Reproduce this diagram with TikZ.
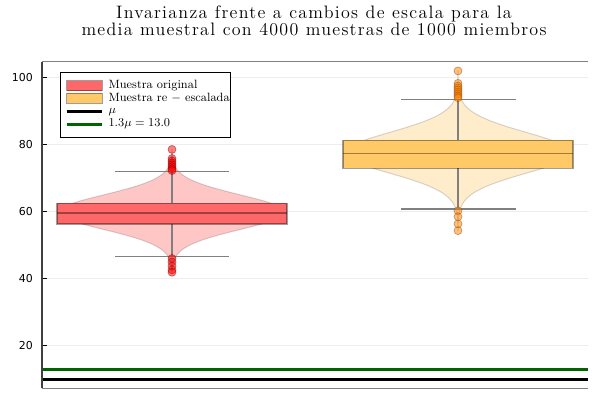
\documentclass[tikz,border=0pt]{standalone}
\usepackage{fontspec}
\usepackage{xcolor}
\usepackage{amsmath,amssymb}
\newfontfamily\ticksfont{DejaVu Sans}
\newfontfamily\titlefont{Latin Modern Roman}[LetterSpace=7]
\definecolor{boxred}{HTML}{FF6868}
\definecolor{violred}{HTML}{FFC6C6}
\definecolor{boxorange}{HTML}{FFC968}
\definecolor{violorange}{HTML}{FFECCB}
\definecolor{darkgreen}{HTML}{006400}
\definecolor{gridgray}{HTML}{EDEDED}

\begin{document}
\begin{tikzpicture}[x=0.75pt,y=0.75pt,
  declare function={vy(\v)=3.355*\v-12.8;}]
        \def\violinpath#1#2#3#4#5{plot[domain=#4:#5,samples=120]
          ({#1+114*exp(-((\x-#2)*(\x-#2))/(2*#3*#3))},{vy(\x)})
          -- plot[domain=#5:#4,samples=120]
          ({#1-114*exp(-((\x-#2)*(\x-#2))/(2*#3*#3))},{vy(\x)}) -- cycle}
        \def\widespace{\spaceskip=0.42em\relax}
        \tikzstyle{tick}=[font=\ticksfont\fontsize{8.2}{9}\selectfont,
        anchor=east,inner sep=0pt]
        \tikzstyle{gridline}=[draw=gridgray,line width=0.75pt]
        \tikzstyle{violin}=[draw=black,draw opacity=0.15,line width=0.75pt]
        \tikzstyle{boxbody}=[draw=black,draw opacity=0.38,line width=0.9pt]
        \tikzstyle{whisker}=[draw=black!50,line width=0.8pt]
        \tikzstyle{outlier}=[circle,inner sep=0pt,minimum size=6pt,
        line width=0.5pt,draw opacity=0.5,fill opacity=0.5]
        \tikzstyle{legendtext}=[font=\fontsize{9}{10}\selectfont,
        anchor=west,inner sep=0pt]
        \tikzstyle{titletext}=[font={\titlefont\fontsize{13.5}{16}\selectfont\widespace},
        anchor=base,inner sep=0pt]
        \useasboundingbox (0,0) rectangle (600,400);
        % grid and ticks
        \foreach \v in {20,40,60,80,100} {
          \draw[gridline] (42,{vy(\v)}) -- (588,{vy(\v)});
          \draw[line width=0.75pt] (42,{vy(\v)}) -- ++(5,0);
          \node at (33,{vy(\v)}) [tick] (tick\v) {\v};
        }
        % original sample
        \filldraw[violin,fill=violred] \violinpath{172}{59.8}{5.1}{41.9}{78.5};
        \draw[whisker] (172,{vy(46.6)}) -- (172,{vy(71.9)});
        \draw[boxbody,fill=boxred] (57,{vy(56.3)}) rectangle (287,{vy(62.5)});
        \draw[boxbody] (57,{vy(59.55)}) -- (287,{vy(59.55)});
        \draw[whisker] (115,{vy(71.9)}) -- (229,{vy(71.9)});
        \draw[whisker] (115,{vy(46.6)}) -- (229,{vy(46.6)});
        \foreach \v [count=\i] in {78.5,75.8,75.1,74.5,73.9,73.3,72.7,72.2,46.0,44.95,43.75,42.6,41.9}
          \node at (172,{vy(\v)}) [outlier,fill=red,draw=red!50!black] (redout\i) {};
        % rescaled sample
        \filldraw[violin,fill=violorange] \violinpath{458}{77.5}{6.0}{54.3}{101.9};
        \draw[whisker] (458,{vy(60.75)}) -- (458,{vy(93.5)});
        \draw[boxbody,fill=boxorange] (343,{vy(72.9)}) rectangle (573,{vy(81.2)});
        \draw[boxbody] (343,{vy(77.35)}) -- (573,{vy(77.35)});
        \draw[whisker] (401,{vy(93.5)}) -- (516,{vy(93.5)});
        \draw[whisker] (401,{vy(60.75)}) -- (516,{vy(60.75)});
        \foreach \v [count=\i] in {101.9,98.2,97.4,96.8,96.2,95.6,95.0,94.4,93.9,60.2,58.45,56.3,54.3}
          \node at (458,{vy(\v)}) [outlier,fill=orange,draw=orange!55!black] (orangeout\i) {};
        % reference lines
        \draw[black,line width=2.3pt] (42,{vy(10)}) -- (588,{vy(10)});
        \draw[darkgreen,line width=2.3pt] (42,{vy(13)}) -- (588,{vy(13)});
        % frame
        \draw[black!50,line width=1.1pt] (42,{vy(104.65)}) -- (588,{vy(104.65)});
        \draw[black!50,line width=1.1pt] (42,{vy(7.3)}) -- (588,{vy(7.3)});
        \draw[black!75,line width=1pt] (42,{vy(7.3)}) -- (42,{vy(104.65)});
        % legend
        \draw[fill=white,line width=0.75pt] (60.7,262.7) rectangle (230.7,327.3);
        \draw[boxbody,fill=boxred] (66.7,309.3) rectangle (102.3,319.3);
        \draw[boxbody,fill=boxorange] (66.7,296.7) rectangle (102.3,306.7);
        \draw[black,line width=2.3pt] (66.7,288.3) -- (102.3,288.3);
        \draw[darkgreen,line width=2.3pt] (66.7,275.7) -- (102.3,275.7);
        \node at (108.3,314.3) [legendtext] (leg1) {Muestra original};
        \node at (108.3,301.7) [legendtext] (leg2) {Muestra re $-$ escalada};
        \node at (108.3,288.3) [legendtext] (leg3) {$\mu$};
        \node at (108.3,275.7) [legendtext] (leg4) {$1.3\mu = 13.0$};
        % title
        \node at (314,381.7) [titletext] (title1) {Invarianza frente a cambios de escala para la};
        \node at (314,364) [titletext] (title2) {media muestral con 4000 muestras de 1000 miembros};
      \end{tikzpicture}
\end{document}
